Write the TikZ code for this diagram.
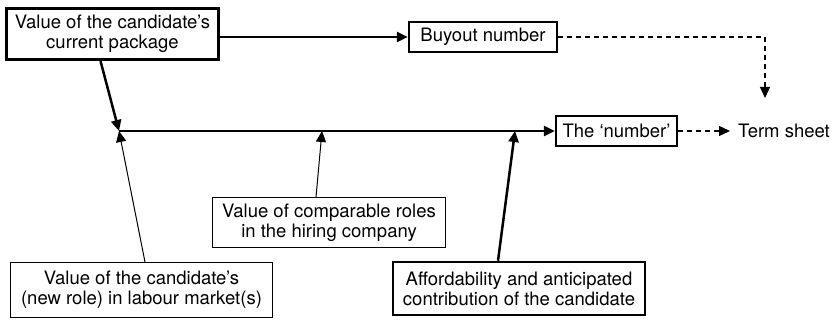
\documentclass[tikz,border=0pt]{standalone}
\usepackage{fontspec}
\setmainfont{TeX Gyre Heros}
\usetikzlibrary{arrows.meta}
\begin{document}
\begin{tikzpicture}[x=1pt,y=-1pt,
  font=\fontsize{18.5}{20}\selectfont,
  box/.style={draw=black, fill=white, align=center, inner sep=2pt},
  heavybox/.style={box, line width=2.5pt},
  lightbox/.style={box, line width=1pt},
  tip/.style={-{Triangle[length=11pt,width=10pt]}},
  heavyarrow/.style={tip, line width=2.5pt},
  lightarrow/.style={tip, line width=1pt},
  dasharrow/.style={tip, line width=1.2pt, dash pattern=on 5pt off 4pt}]
\useasboundingbox (0,0) rectangle (834,320);
\node[heavybox, line width=3pt, minimum width=212pt, minimum height=51pt] (pkg) at (112.5,34) {Value of the candidate’s\\current package};
\node[heavybox, minimum width=148pt, minimum height=30pt] (buy) at (483,37) {Buyout number};
\node[heavybox, minimum width=121pt, minimum height=30pt] (num) at (616.5,131) {The ‘number’};
\node[anchor=west, inner sep=0pt] (ts) at (738,131) {Term sheet};
\node[lightbox, minimum width=233pt, minimum height=50pt] (cmp) at (329,222.5) {Value of comparable roles\\in the hiring company};
\node[lightbox, minimum width=262pt, minimum height=55pt] (mkt) at (141.5,290) {Value of the candidate’s\\(new role) in labour market(s)};
\node[heavybox, minimum width=252pt, minimum height=53pt] (aff) at (519,288.5) {Affordability and anticipated\\contribution of the candidate};
\coordinate (J) at (119,131);
\coordinate (cmpTip) at (322,131);
\coordinate (affTip) at (515,131);
\coordinate (dTip) at (765,98);
\draw[heavyarrow] (pkg.east |- buy.west) -- (buy.west);
\draw[heavyarrow] ([xshift=-12pt]pkg.south) -- (J);
\draw[lightarrow] ([xshift=3.5pt]mkt.north) -- (J);
\draw[heavyarrow] (J) -- (num.west);
\draw[lightarrow] ([xshift=-13pt]cmp.north) -- (cmpTip);
\draw[heavyarrow] ([xshift=-21pt]aff.north) -- (affTip);
\draw[dasharrow] (buy.east) -| (dTip);
\draw[dasharrow] (num.east) -- ([xshift=-8pt]ts.west);
\end{tikzpicture}
\end{document}
